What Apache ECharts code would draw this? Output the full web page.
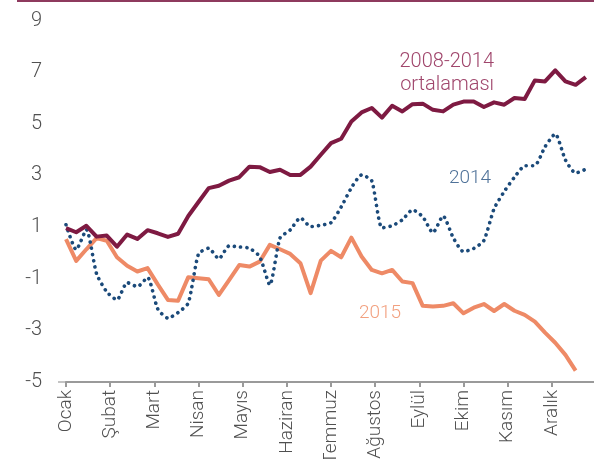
<!DOCTYPE html>
<html>
  <head>
    <meta charset="utf-8" />
    <title>ECharts</title>
    <script src="https://cdn.jsdelivr.net/npm/echarts@6/dist/echarts.min.js"></script>
    <style>
      body { margin: 0; background: #fff; }
    </style>
  </head>
  <body>
    <div id="main" style="width: 594px;height:459px;"></div>
    <script type="text/javascript">
        // aylar (x ekseni etiketleri)
        var months = ['Ocak', 'Şubat', 'Mart', 'Nisan', 'Mayıs', 'Haziran', 'Temmuz', 'Ağustos', 'Eylül', 'Ekim', 'Kasım', 'Aralık'];
        var yTicks = [-5, -3, -1, 1, 3, 5, 7, 9];

        // haftalık veriler
        var avg0814 = [0.96, 0.80, 1.05, 0.63, 0.67, 0.24, 0.71, 0.54, 0.88, 0.76, 0.62, 0.74, 1.43,
            1.97, 2.51, 2.60, 2.80, 2.93, 3.34, 3.32, 3.13, 3.22, 3.02, 3.02, 3.34, 3.80, 4.25,
            4.42, 5.09, 5.44, 5.61, 5.24, 5.70, 5.48, 5.76, 5.78, 5.54, 5.48, 5.74,
            5.86, 5.86, 5.65, 5.83, 5.74, 6.00, 5.96, 6.68, 6.64, 7.07, 6.64, 6.51, 6.81];
        var y2014 = [1.09, 0.12, 0.90, -0.81, -1.51, -1.82, -1.15, -1.31, -0.95, -2.17, -2.53, -2.31, -1.94,
            -0.04, 0.18, -0.23, 0.27, 0.23, 0.18, -0.14, -1.24, 0.58, 0.89, 1.36, 1.02, 1.07, 1.17,
            1.78, 2.52, 3.02, 2.79, 0.97, 1.05, 1.28, 1.67, 1.40, 0.78, 1.43, 0.58,
            0.05, 0.17, 0.48, 1.71, 2.38, 2.93, 3.37, 3.38, 4.11, 4.61, 3.60, 3.09, 3.24];
        var y2015 = [0.53, -0.31, 0.14, 0.57, 0.47, -0.17, -0.50, -0.72, -0.59, -1.22, -1.82, -1.85, -0.94, -0.98,
            -1.02, -1.63, -1.05, -0.47, -0.53, -0.34, 0.31, 0.14, -0.04, -0.40, -1.56, -0.30, 0.08,
            -0.17, 0.59, -0.14, -0.66, -0.79, -0.66, -1.11, -1.17, -2.05, -2.08, -2.05, -1.95, -2.34,
            -2.12, -1.98, -2.25, -1.98, -2.24, -2.40, -2.66, -3.09, -3.48, -3.95, -4.56, null];

        var weeks = [];
        for (var i = 0; i <= 52; i++) {
            weeks.push('H' + (i + 1));
        }

        var myChart = echarts.init(document.getElementById('main'));
        var fontFam = 'Roboto, "DejaVu Sans", sans-serif';

        var option = {
            animation: false,
            backgroundColor: '#fff',
            textStyle: { fontFamily: fontFam },
            grid: { left: 66, top: 20.5, width: 530, height: 361.5, outerBoundsMode: 'none', containLabel: false },
            xAxis: [
                {
                    // haftalar, gizli
                    type: 'category',
                    data: weeks,
                    boundaryGap: false,
                    show: false
                },
                {
                    // ay etiketleri, alt çizgi
                    type: 'value',
                    position: 'bottom',
                    min: 0,
                    max: 12,
                    interval: 1,
                    axisLine: { onZero: false, lineStyle: { color: '#c4c4c4', width: 2 } },
                    axisTick: { show: false },
                    splitLine: { show: false },
                    axisLabel: {
                        rotate: 90,
                        margin: 8,
                        color: '#505050',
                        fontSize: 19,
                        fontWeight: 300,
                        fontFamily: fontFam,
                        showMaxLabel: false,
                        formatter: function (v) {
                            return months[v] || '';
                        }
                    }
                },
                {
                    // sıfır çizgisi
                    type: 'value',
                    position: 'bottom',
                    min: 0,
                    max: 12,
                    interval: 1,
                    axisLine: { onZero: true, lineStyle: { color: '#9a9a9a', width: 2 } },
                    axisTick: { show: true, inside: false, length: 5, lineStyle: { color: '#9a9a9a', width: 2 } },
                    axisLabel: { show: false },
                    splitLine: { show: false }
                }
            ],
            yAxis: {
                type: 'value',
                min: -5,
                max: 9,
                interval: 2,
                axisLine: { show: false },
                axisTick: { show: false },
                splitLine: { show: false },
                axisLabel: {
                    margin: 24,
                    color: '#505050',
                    fontSize: 20,
                    fontWeight: 300,
                    fontFamily: fontFam,
                    formatter: function (v) {
                        return yTicks.indexOf(v) >= 0 ? String(v) : '';
                    }
                }
            },
            graphic: [
                { type: 'line', shape: { x1: 17, y1: 1, x2: 594, y2: 1 }, style: { stroke: '#8e3a5e', lineWidth: 2 } },
                { type: 'line', shape: { x1: 58, y1: 382, x2: 66, y2: 382 }, style: { stroke: '#c4c4c4', lineWidth: 2 } },
                { type: 'text', x: 494, y: 62, style: { text: '2008-2014', fill: '#a0466c', font: '300 20px ' + fontFam, align: 'right', verticalAlign: 'middle' } },
                { type: 'text', x: 494, y: 85, style: { text: 'ortalaması', fill: '#a0466c', font: '300 20px ' + fontFam, align: 'right', verticalAlign: 'middle' } },
                { type: 'text', x: 449, y: 178, style: { text: '2014', fill: '#4f7299', font: '300 19px ' + fontFam, align: 'left', verticalAlign: 'middle' } },
                { type: 'text', x: 359, y: 313, style: { text: '2015', fill: '#f2a07f', font: '300 19px ' + fontFam, align: 'left', verticalAlign: 'middle' } }
            ],
            series: [
                {
                    name: '2015',
                    type: 'line',
                    xAxisIndex: 0,
                    data: y2015,
                    showSymbol: false,
                    lineStyle: { color: '#ee8a66', width: 4, join: 'round' }
                },
                {
                    name: '2014',
                    type: 'line',
                    xAxisIndex: 0,
                    data: y2014,
                    showSymbol: false,
                    smooth: 0.2,
                    lineStyle: { color: '#1b4a7a', width: 3.6, type: [0.1, 6.2], cap: 'round' }
                },
                {
                    name: '2008-2014 ortalaması',
                    type: 'line',
                    xAxisIndex: 0,
                    data: avg0814,
                    showSymbol: false,
                    lineStyle: { color: '#7e1a42', width: 4, join: 'round' }
                }
            ]
        };

        myChart.setOption(option);
    </script>
  </body>
</html>
